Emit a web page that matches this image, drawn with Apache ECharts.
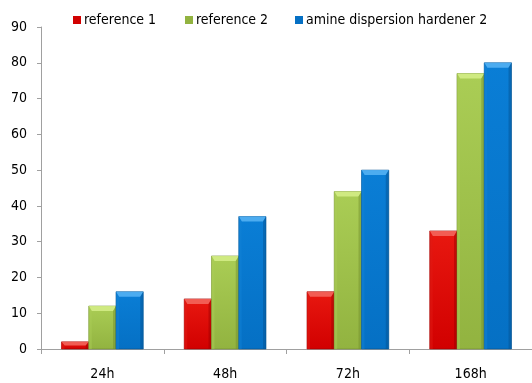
<!DOCTYPE html>
<html>
<head>
<meta charset="utf-8">
<script src="https://cdn.jsdelivr.net/npm/echarts@6/dist/echarts.min.js"></script>
<style>
  html, body { margin: 0; padding: 0; background: #fff; }
  #chart { width: 532px; height: 383px; }
</style>
</head>
<body>
<div id="chart"></div>
<script>
// Curing time points
const categories = ['24h', '48h', '72h', '168h'];
// Series values
const reference1 = [2, 14, 16, 33];
const reference2 = [12, 26, 44, 77];
const amineHardener2 = [16, 37, 50, 80];
// Value axis ticks
const yTicks = [0, 10, 20, 30, 40, 50, 60, 70, 80, 90];

const FONT = '"Liberation Sans Narrow", "DejaVu Sans Condensed", "Liberation Sans", sans-serif';

// Palette per series: base, light (top bevel), dark (edges)
const palettes = [
  { base: '#d10000', top: '#e81810', light: '#e01a14', dark: '#9a0000', bevel: '#f36a60' },
  { base: '#92b340', top: '#aacd55', light: '#a9cc56', dark: '#6f8c2c', bevel: '#d6ee8a' },
  { base: '#0570c4', top: '#0a7ed6', light: '#1282d6', dark: '#04508f', bevel: '#58b4f4' }
];

const seriesDefs = [
  { name: 'reference 1', data: reference1 },
  { name: 'reference 2', data: reference2 },
  { name: 'amine dispersion hardener 2', data: amineHardener2 }
];

// Legend item x positions
const legendLeft = [73, 185, 295];

// Beveled bar drawn through the category/value scales
function makeRender(seriesIndex) {
  const pal = palettes[seriesIndex];
  return function (params, api) {
    const catIdx = api.value(0);
    const val = api.value(1);
    const band = api.size([1, 0])[0];
    const bw = band * 0.222;
    const center = api.coord([catIdx, 0])[0];
    const x = center - bw * 1.5 + bw * seriesIndex;
    const yTop = api.coord([catIdx, val])[1];
    const yBase = api.coord([catIdx, 0])[1];
    const h = yBase - yTop;
    const bev = Math.min(5, h / 2);
    const side = 3;
    const children = [
      {
        type: 'rect',
        shape: { x: x, y: yTop, width: bw, height: h },
        style: {
          fill: new echarts.graphic.LinearGradient(0, 0, 0, 1, [
            { offset: 0, color: pal.top },
            { offset: 1, color: pal.base }
          ]),
          stroke: pal.dark,
          lineWidth: 0.6
        }
      },
      {
        // top bevel
        type: 'polygon',
        shape: { points: [[x, yTop], [x + bw, yTop], [x + bw - side, yTop + bev], [x + side, yTop + bev]] },
        style: { fill: pal.bevel, opacity: 0.85 }
      },
      {
        // left bevel
        type: 'polygon',
        shape: { points: [[x, yTop], [x + side, yTop + bev], [x + side, yBase], [x, yBase]] },
        style: { fill: pal.light, opacity: 0.5 }
      },
      {
        // right bevel
        type: 'polygon',
        shape: { points: [[x + bw, yTop], [x + bw - side, yTop + bev], [x + bw - side, yBase], [x + bw, yBase]] },
        style: { fill: pal.dark, opacity: 0.45 }
      }
    ];
    return { type: 'group', children: children };
  };
}

const chart = echarts.init(document.getElementById('chart'), null, { renderer: 'canvas' });

chart.setOption({
  animation: false,
  backgroundColor: '#ffffff',
  color: palettes.map(p => p.base),
  legend: seriesDefs.map((s, i) => ({
    top: 13,
    left: legendLeft[i],
    padding: 0,
    itemWidth: 8,
    itemHeight: 8,
    itemGap: 0,
    icon: 'rect',
    textStyle: { fontFamily: FONT, fontSize: 14, color: '#000', padding: [0, 0, 0, -2] },
    data: [s.name]
  })),
  grid: { left: 41, right: -5, top: 27, bottom: 34, containLabel: false },
  xAxis: {
    type: 'category',
    data: categories,
    axisLine: { lineStyle: { color: '#a0a0a0', width: 1 } },
    axisTick: { show: true, alignWithLabel: false, length: 5, lineStyle: { color: '#a0a0a0' } },
    axisLabel: { fontFamily: FONT, fontSize: 14, color: '#000', margin: 18 },
    splitLine: { show: false }
  },
  yAxis: {
    type: 'value',
    min: yTicks[0],
    max: yTicks[yTicks.length - 1],
    interval: yTicks[1] - yTicks[0],
    axisLine: { show: true, lineStyle: { color: '#a0a0a0', width: 1 } },
    axisTick: { show: true, length: 4, lineStyle: { color: '#a0a0a0' } },
    axisLabel: { fontFamily: FONT, fontSize: 14, color: '#000', margin: 14 },
    splitLine: { show: false }
  },
  series: seriesDefs.map((s, i) => ({
    type: 'custom',
    name: s.name,
    itemStyle: { color: palettes[i].base },
    renderItem: makeRender(i),
    encode: { x: 0, y: 1 },
    data: s.data.map((v, k) => [k, v])
  }))
});
</script>
</body>
</html>
